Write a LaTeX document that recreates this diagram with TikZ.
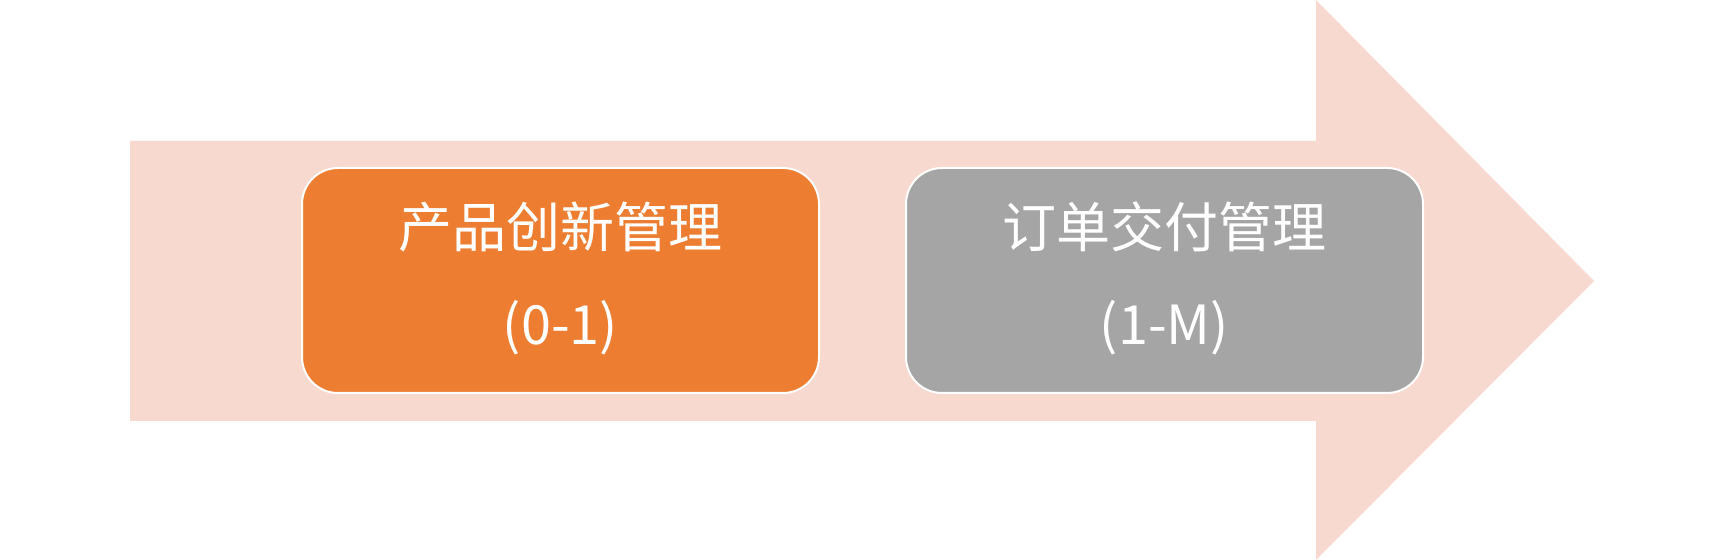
\documentclass[tikz,border=0pt]{standalone}
\usepackage{fontspec}
\setmainfont{Noto Sans CJK SC}
\definecolor{arrowc}{HTML}{F7D9CF}
\definecolor{orangec}{HTML}{ED7D31}
\definecolor{grayc}{HTML}{A5A5A5}
\tikzset{stage/.style={draw=white,line width=1pt,rounded corners=18pt,minimum width=258.5pt,minimum height=112.5pt,inner sep=0pt},
lbl/.style={text=white,font=\fontsize{27}{30}\selectfont}}
\begin{document}
\begin{tikzpicture}[x=0.5pt,y=-0.5pt]
\useasboundingbox (0,0) rectangle (1724,560);
\fill[arrowc] (130,141) -- (1316,141) -- (1316,0) -- (1594,281) -- (1316,560) -- (1316,421) -- (130,421) -- cycle;
\node[stage,fill=orangec] (b1) at (560.5,280.5) {};
\node[stage,fill=grayc] (b2) at (1164.5,280.5) {};
\node[lbl] (t1) at (560.5,227) {产品创新管理};
\node[lbl] (n1) at (560.5,328) {(0-1)};
\node[lbl] (t2) at (1164.5,227) {订单交付管理};
\node[lbl] (n2) at (1164.5,328) {(1-M)};
\end{tikzpicture}
\end{document}
